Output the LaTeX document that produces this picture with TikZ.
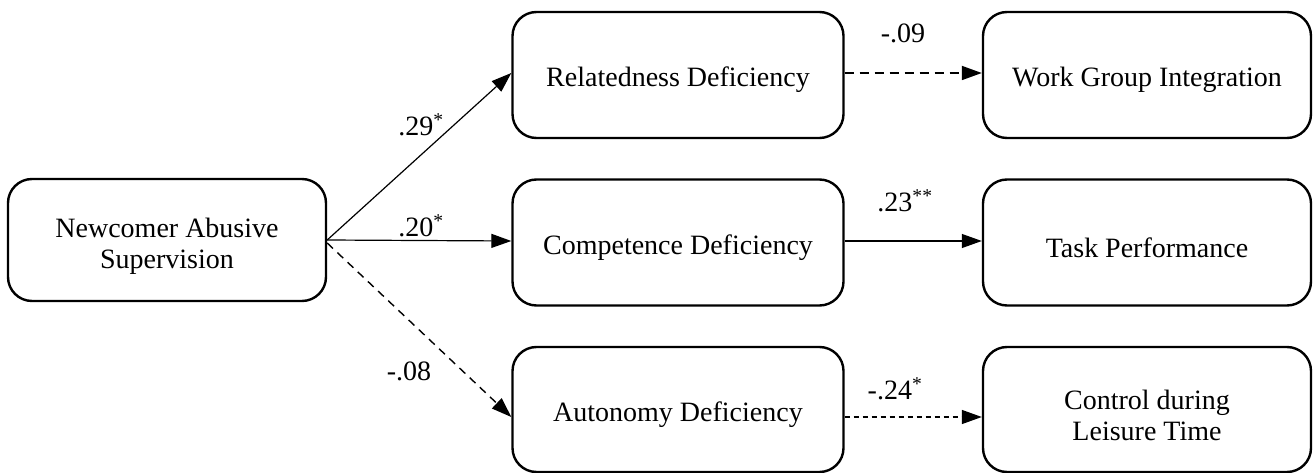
\documentclass[tikz,border=0pt]{standalone}
\usepackage{fontspec}
\setmainfont{Liberation Serif}
\usetikzlibrary{arrows.meta}
\begin{document}
\begin{tikzpicture}[x=1pt,y=-1pt,
  box/.style={draw, line width=2.4pt, rounded corners=24pt, inner sep=0pt},
  txt/.style={align=center, inner sep=0pt, font=\fontsize{28}{31}\selectfont},
  lab/.style={font=\fontsize{28}{31}\selectfont, inner sep=0pt},
  arr/.style={-{Triangle[length=20pt,width=14pt]}, line width=1.2pt},
  darr/.style={arr, dashed, dash pattern=on 9pt off 6pt, line width=1.8pt}]
\useasboundingbox (0,0) rectangle (1315,473);
\node[box, minimum width=318pt, minimum height=122pt] (nas) at (167,240) {};
\node[box, minimum width=331pt, minimum height=126pt] (rd) at (678,75) {};
\node[box, minimum width=331pt, minimum height=126pt] (cd) at (678,242.5) {};
\node[box, minimum width=331pt, minimum height=125pt] (ad) at (678,409.5) {};
\node[box, minimum width=328pt, minimum height=126pt] (wg) at (1147,75) {};
\node[box, minimum width=328pt, minimum height=126pt] (tp) at (1147,242.5) {};
\node[box, minimum width=328pt, minimum height=125pt] (cl) at (1147,409.5) {};
\node[txt] (tnas) at ([yshift=-6pt]nas.center) {Newcomer Abusive\\Supervision};
\node[txt] (trd) at ([yshift=-5pt]rd.center) {Relatedness Deficiency};
\node[txt] (tcd) at ([yshift=-5pt]cd.center) {Competence Deficiency};
\node[txt] (tad) at ([yshift=-5pt]ad.center) {Autonomy Deficiency};
\node[txt] (twg) at ([yshift=-5pt]wg.center) {Work Group Integration};
\node[txt] (ttp) at ([yshift=-5pt]tp.center) {Task Performance};
\node[txt] (tcl) at ([yshift=-6pt]cl.center) {Control during\\Leisure Time};
\coordinate (s) at (nas.east);
\draw[arr] (s) -- ([yshift=2pt]rd.west);
\draw[arr] (s) -- ([yshift=1.5pt]cd.west);
\draw[darr, dash pattern=on 8pt off 6pt, line width=1.4pt] ([yshift=-3pt]nas.east) -- ([yshift=-7.5pt]ad.west);
\draw[darr] ([yshift=2pt]rd.east) -- ([yshift=2pt]wg.west);
\draw[arr] ([yshift=1.5pt]cd.east) -- ([yshift=1.5pt]tp.west);
\draw[darr, dash pattern=on 5pt off 4pt, line width=1.4pt] ([yshift=-7.5pt]ad.east) -- ([yshift=-7.5pt]cl.west);
\node[lab] (l1) at (421,125) {.29\textsuperscript{*}};
\node[lab] (l2) at (421,226) {.20\textsuperscript{*}};
\node[lab] (l3) at (409,371) {-.08};
\node[lab] (l4) at (903,33) {-.09};
\node[lab] (l5) at (905,201) {.23\textsuperscript{**}};
\node[lab] (l6) at (895,389) {-.24\textsuperscript{*}};
\end{tikzpicture}
\end{document}
